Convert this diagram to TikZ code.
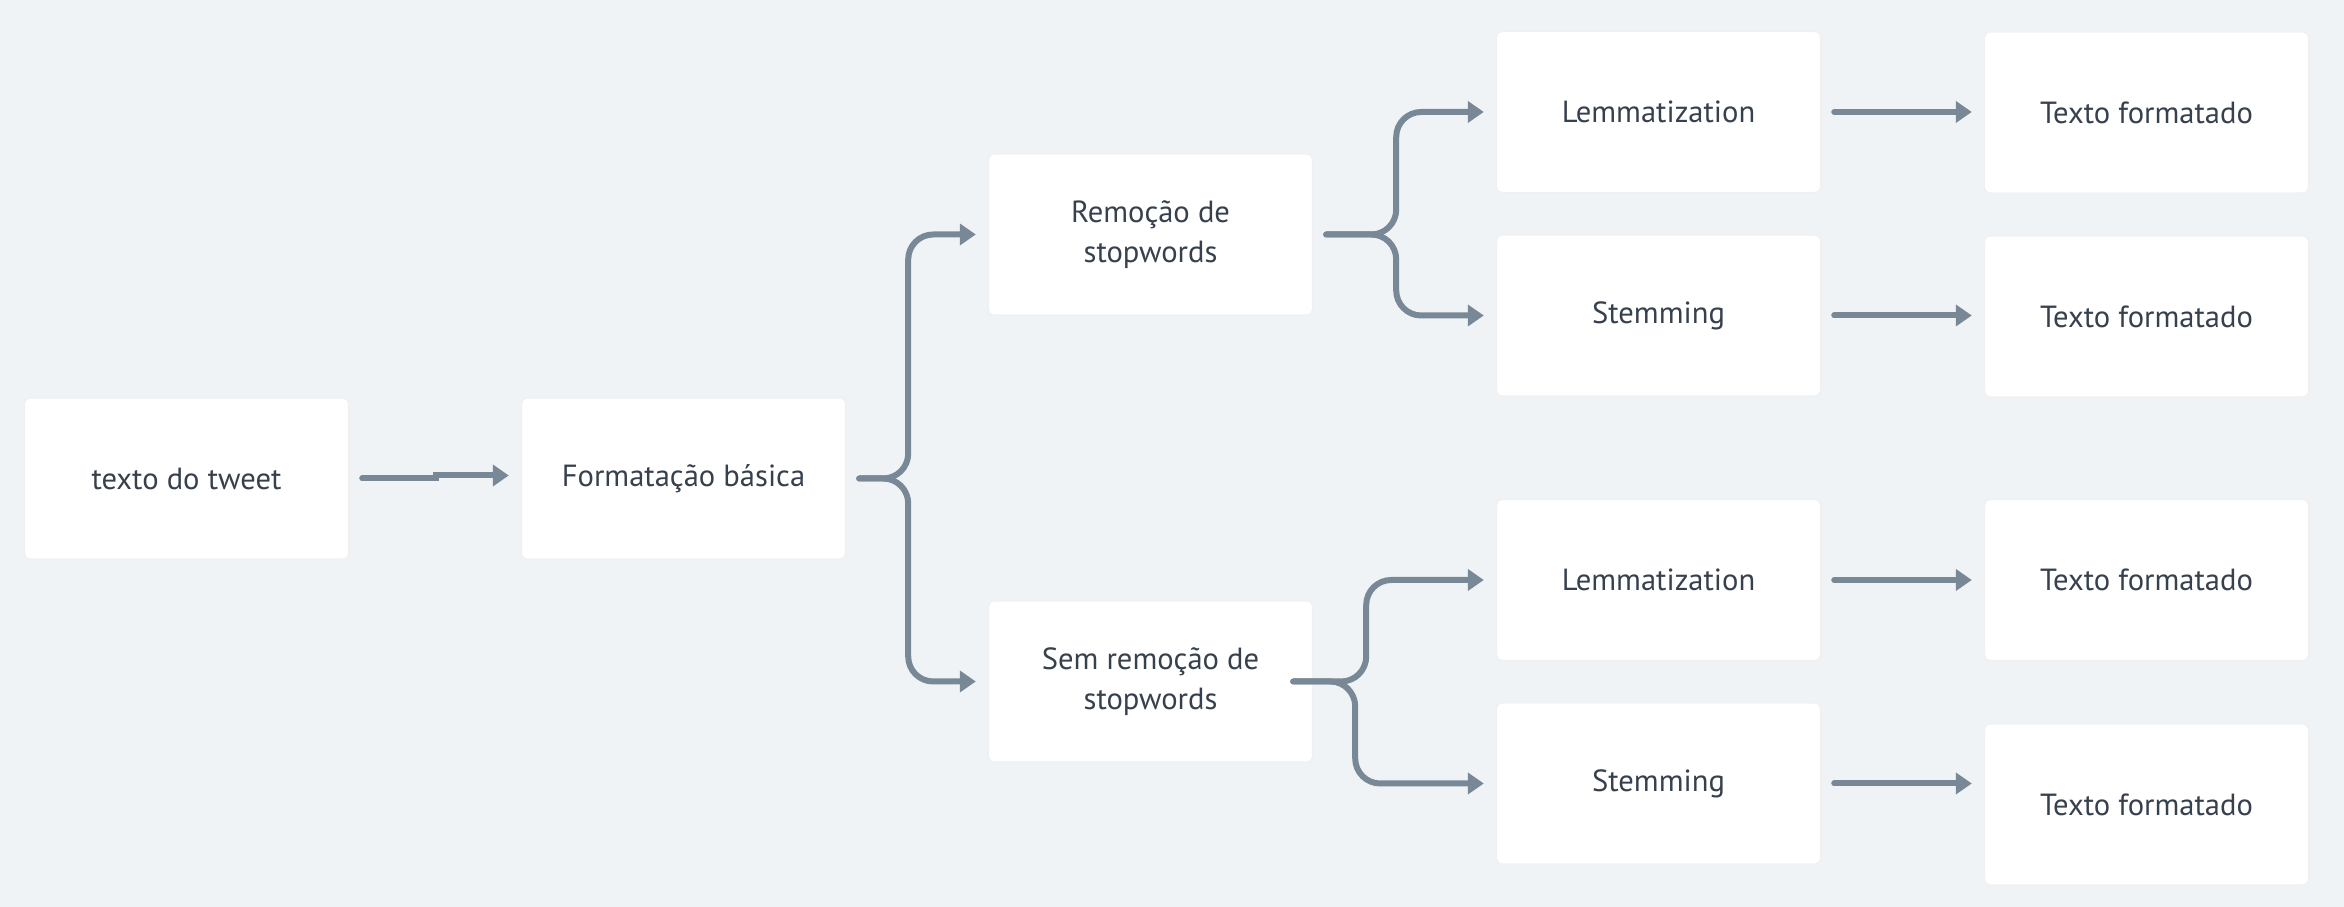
\documentclass[tikz,border=0pt]{standalone}
\usepackage{fontspec}
\setmainfont{PT Sans}
\usepackage{xcolor}
\usetikzlibrary{arrows.meta, positioning}
\definecolor{bgcol}{HTML}{EFF3F6}
\definecolor{linkcol}{HTML}{788897}
\definecolor{txtcol}{HTML}{37414D}
\tikzset{
box/.style={draw=black!6, line width=0.4pt, fill=white, rounded corners=0.05cm,
  minimum width=3.24cm, minimum height=1.61cm, align=center, text=txtcol,
  font=\fontsize{8.7}{11.4}\selectfont},
link/.style={-{Triangle[length=0.16cm, width=0.21cm]}, draw=linkcol,
  line width=0.06cm, line cap=round, rounded corners=0.25cm,
  shorten <=0.13cm, shorten >=0.12cm},
}

\begin{document}
\begin{tikzpicture}
    \fill[bgcol] (0,0) rectangle (23.44,9.07);
    \useasboundingbox (0,0) rectangle (23.44,9.07);

    \node[box] (tweet) at (1.865,4.285) {texto do tweet};
    \node[box] (fmt) at (6.835,4.285) {Formatação básica};
    \node[box] (rem) at (11.505,6.725) {Remoção de\\stopwords};
    \node[box] (sem) at (11.505,2.255) {Sem remoção de\\stopwords};
    \node[box] (lem1) at (16.585,7.95) {Lemmatization};
    \node[box] (stem1) at (16.585,5.915) {Stemming};
    \node[box] (lem2) at (16.585,3.27) {Lemmatization};
    \node[box] (stem2) at (16.585,1.235) {Stemming};
    \node[box] (tf1) at (21.465,7.945) {Texto formatado};
    \node[box] (tf2) at (21.465,5.905) {Texto formatado};
    \node[box] (tf3) at (21.465,3.27) {Texto formatado};
    \node[box] (tf4) at (21.465,1.025) {Texto formatado};

    \draw[link, sharp corners] (tweet.east) -- ++(0.87,0) -- ++(0,0.03) -- ([yshift=0.03cm]fmt.west);

    \draw[link] (fmt.east) -- ++(0.62,0) |- (rem.west);
    \draw[link] (fmt.east) -- ++(0.62,0) |- (sem.west);

    \draw[link] (rem.east) -- ++(0.83,0) |- (lem1.west);
    \draw[link] (rem.east) -- ++(0.83,0) |- (stem1.west);

    \draw[link, shorten <=0pt] ([xshift=-0.2cm]sem.east) -- ++(0.73,0) |- (lem2.west);
    \draw[link, shorten <=0pt] ([xshift=-0.2cm]sem.east) -- ++(0.62,0) |- (stem2.west);

    \draw[link] (lem1.east) -- (lem1.east -| tf1.west);
    \draw[link] (stem1.east) -- (stem1.east -| tf2.west);
    \draw[link] (lem2.east) -- (lem2.east -| tf3.west);
    \draw[link] (stem2.east) -- (stem2.east -| tf4.west);
\end{tikzpicture}
\end{document}
